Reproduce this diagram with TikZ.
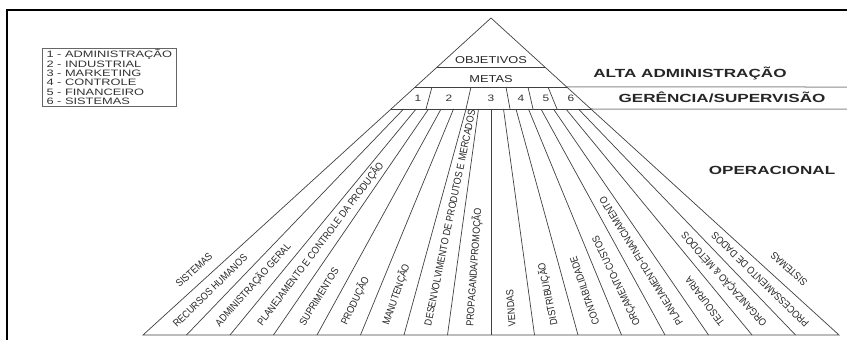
\documentclass[tikz,border=0pt]{standalone}
\usepackage{fontspec}
\setmainfont{Liberation Sans}
\newfontfamily\headfont{Liberation Sans}[FakeStretch=1.45]
\newfontfamily\legendfont{Liberation Sans}[FakeStretch=1.38]
\newfontfamily\tierfont{Liberation Sans}[FakeStretch=1.28]
\newfontfamily\sectorfont{Liberation Sans}[FakeStretch=0.87]
\usetikzlibrary{calc}

\begin{document}
\begin{tikzpicture}[x=1pt,y=-1pt,
  frame/.style={line width=2.2pt, black},
  edge/.style={line width=0.7pt, black!75},
  band/.style={line width=1pt, black!45},
  tier/.style={font=\tierfont\fontsize{10}{12}\selectfont, text=black!85, inner sep=0pt, anchor=base},
  num/.style={font=\tierfont\fontsize{9.3}{11}\selectfont, text=black!80, inner sep=0pt, anchor=base},
  level/.style={font=\headfont\bfseries\fontsize{11.8}{14}\selectfont, text=black!85, inner sep=0pt, anchor=base},
  sector/.style={font=\sectorfont\fontsize{10.3}{12}\selectfont, text=black!85, inner sep=0pt, anchor=west},
  outer/.style={font=\sectorfont\fontsize{10.3}{12}\selectfont, text=black!85, inner sep=0pt},
  legendbox/.style={draw=black!60, line width=0.6pt, inner xsep=4.5pt, inner ysep=1.5pt,
    anchor=north west, align=left, text=black!80,
    font=\legendfont\fontsize{9.3}{9.4}\selectfont},
]
\useasboundingbox (0,0) rectangle (847,340);

% page frame (top and left rules)
\coordinate (frameL) at (7,340);
\coordinate (frameC) at (7,10);
\coordinate (frameR) at (847,10);
\draw[frame] (frameL) -- (frameC) -- (frameR);

% legend
\node[legendbox] (legend) at (41.7,47.7)
  {1 - ADMINISTRAÇÃO\\2 - INDUSTRIAL\\3 - MARKETING\\4 - CONTROLE\\5 - FINANCEIRO\\6 - SISTEMAS};

% pyramid outline
\coordinate (A) at (491,18);
\coordinate (BL) at (143,335);
\coordinate (BR) at (839,335);

% horizontal tiers: light rules running out to the right margin
\coordinate (L67) at ($(A)!{49/317}!(BL)$);
\coordinate (R67) at ($(A)!{49/317}!(BR)$);
\coordinate (L87) at ($(A)!{69/317}!(BL)$);
\coordinate (R87) at ($(A)!{69/317}!(BR)$);
\coordinate (E87) at (847,87);
\coordinate (L109) at ($(A)!{91/317}!(BL)$);
\coordinate (R109) at ($(A)!{91/317}!(BR)$);
\coordinate (E109) at (847,109);
\draw[band] (R87) -- (E87);
\draw[band] (R109) -- (E109);
\draw[edge] (L67) -- (R67);
\draw[edge] (L87) -- (R87);
\draw[edge] (L109) -- (R109);

\draw[edge] (BL) -- (A) -- (BR) -- cycle;

% fan of operational areas
\foreach \k in {1,...,15} {
  \coordinate (B\k) at ({143+43.5*\k},335);
  \coordinate (T\k) at ($(A)!{91/317}!(B\k)$);
  \draw[edge] (T\k) -- (B\k);
}

% dividers of the numbered row
\foreach \xt/\xb [count=\i] in {432/426, 471/466, 506/510, 528/533, 548/557} {
  \coordinate (dt\i) at (\xt,87);
  \coordinate (db\i) at (\xb,109);
  \draw[edge] (dt\i) -- (db\i);
}

% tier texts
\node[tier] (objetivos) at (491,63.8) {OBJETIVOS};
\node[tier] (metas) at (491,82) {METAS};
\foreach \x/\n in {418/1, 449/2, 491/3, 521/4, 546/5, 571/6}
  \node[num] (g\n) at (\x,101.5) {\n};

% level names
\node[level] (alta) at (690,77.3) {ALTA ADMINISTRAÇÃO};
\node[level] (gerencia) at (722,102.3) {GERÊNCIA/SUPERVISÃO};
\node[level] (operacional) at (772,174.3) {OPERACIONAL};

% area labels along each sector
\foreach \k/\txt in {
  1/{RECURSOS HUMANOS},
  2/{ADMINISTRAÇÃO GERAL},
  3/{PLANEJAMENTO E CONTROLE DA PRODUÇÃO},
  4/{SUPRIMENTOS},
  5/{PRODUÇÃO},
  6/{MANUTENÇÃO},
  7/{DESENVOLVIMENTO DE PRODUTOS E MERCADOS},
  8/{PROPAGANDA/PROMOÇÃO},
  9/{VENDAS},
  10/{DISTRIBUIÇÃO},
  11/{CONTABILIDADE},
  12/{ORÇAMENTO-CUSTOS},
  13/{PLANEJAMENTO-FINANCIAMENTO},
  14/{TESOURARIA},
  15/{ORGANIZAÇÃO \& MÉTODOS},
  16/{PROCESSAMENTO DE DADOS}} {
  \pgfmathsetmacro\xc{143+43.5*(\k-0.5)}
  \pgfmathsetmacro\ang{atan2(317,491-\xc)}
  \pgfmathsetmacro\dd{8+8*abs(cos(\ang))}
  \node[sector, rotate=\ang] (area\k) at ({\xc+\dd*cos(\ang)},{335-\dd*sin(\ang)}) {\txt};
}

% systems, outside both flanks
\node[outer, rotate=42.33] (sisL) at (194,270) {SISTEMAS};
\node[outer, rotate=137.67] (sisR) at (789,269) {SISTEMAS};
\end{tikzpicture}
\end{document}
